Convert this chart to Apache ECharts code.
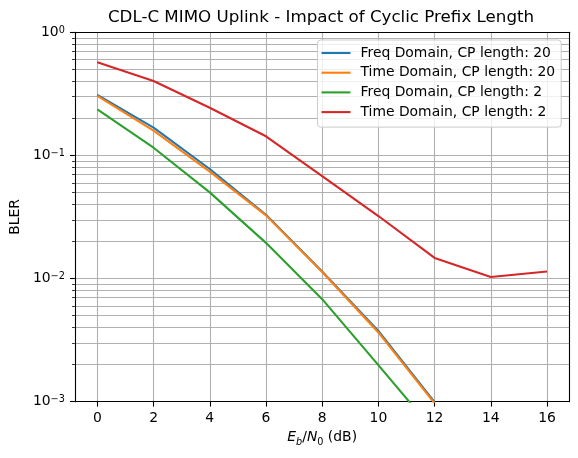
<!DOCTYPE html>
<html><head><meta charset="utf-8">
<script src="https://cdn.jsdelivr.net/npm/echarts@6/dist/echarts.min.js"></script>
<style>html,body{margin:0;padding:0;background:#fff}#c{width:578px;height:458px}</style>
</head><body><div id="c"></div>
<script>
// ---- data ----
const ebn0 = [0, 2, 4, 6, 8, 10, 12, 14, 16];
const freqCp20 = [0.310, 0.168, 0.0776, 0.0330, 0.0114, 0.00375, 0.00099, null, null];
const timeCp20 = [0.304, 0.159, 0.0738, 0.0326, 0.0113, 0.00365, 0.00097, null, null];
const freqCp2  = [0.237, 0.1155, 0.0501, 0.0195, 0.0068, 0.00198, 0.00057, null, null];
const timeCp2  = [0.570, 0.402, 0.244, 0.143, 0.068, 0.0322, 0.0147, 0.0103, 0.0114];
const seriesNames = [
  'Freq Domain, CP length: 20',
  'Time Domain, CP length: 20',
  'Freq Domain, CP length: 2',
  'Time Domain, CP length: 2'
];
const xTicks = [0, 2, 4, 6, 8, 10, 12, 14, 16];
const yMajor = [0.001, 0.01, 0.1, 1];
const yMinor = [0.002, 0.003, 0.004, 0.005, 0.006, 0.007, 0.008, 0.009,
                0.02, 0.03, 0.04, 0.05, 0.06, 0.07, 0.08, 0.09,
                0.2, 0.3, 0.4, 0.5, 0.6, 0.7, 0.8, 0.9];
const yGrid = yMinor.concat([0.01, 0.1]);

// ---- chart ----
const FONT = 'DejaVu Sans';
const colors = ['#1f77b4', '#ff7f0e', '#2ca02c', '#d62728'];
const values = [freqCp20, timeCp20, freqCp2, timeCp2];
const chart = echarts.init(document.getElementById('c'), null, {renderer: 'canvas'});

function sup(v) {
  const e = Math.round(Math.log10(v));
  return '{b|10}{s|' + (e < 0 ? '\u2212' + (-e) : String(e)) + '}';
}
const gridColor = '#b0b0b0';
const yRange = {type: 'log', logBase: 10, min: 0.001, max: 1, gridIndex: 0};

chart.setOption({
  animation: false,
  backgroundColor: '#fff',
  textStyle: {fontFamily: FONT},
  color: colors,
  title: {
    text: 'CDL-C MIMO Uplink - Impact of Cyclic Prefix Length',
    left: 316, top: 4, textAlign: 'center',
    textStyle: {fontFamily: FONT, fontSize: 16.7, fontWeight: 'normal', color: '#000'}
  },
  legend: {
    data: seriesNames,
    orient: 'vertical',
    left: 317.5, top: 40,
    padding: [6, 6, 8, 4],
    itemWidth: 29, itemHeight: 14, itemGap: 5.7,
    icon: 'path://M0,0H29V2.1H0Z',
    backgroundColor: 'rgba(255,255,255,0.8)',
    borderColor: '#cccccc', borderWidth: 1, borderRadius: 3,
    textStyle: {fontFamily: FONT, fontSize: 13.9, color: '#000', lineHeight: 14, padding: [0, 0, 0, 5]}
  },
  grid: {left: 73, right: 8.5, top: 32.3, bottom: 56.3, containLabel: false},
  xAxis: [{
    type: 'value', min: -0.8, max: 16.8, position: 'bottom',
    axisLine: {show: true, onZero: false, lineStyle: {color: '#000', width: 1.1}},
    axisTick: {show: true, customValues: xTicks, length: 4.9, lineStyle: {color: '#000', width: 1.1}},
    axisLabel: {customValues: xTicks, margin: 10, fontFamily: FONT, fontSize: 13.9, color: '#000'},
    splitLine: {show: true, lineStyle: {color: gridColor, width: 1.1}},
    name: '{i|E}{sb|b}{n|/}{i|N}{s0|0}{n| (dB)}',
    nameLocation: 'middle', nameGap: 28,
    nameTextStyle: {
      color: '#000',
      rich: {
        i: {fontFamily: FONT, fontSize: 13.9, fontStyle: 'italic', color: '#000', lineHeight: 16, verticalAlign: 'top'},
        n: {fontFamily: FONT, fontSize: 13.9, color: '#000', lineHeight: 16, verticalAlign: 'top'},
        sb: {fontFamily: FONT, fontSize: 9.7, fontStyle: 'italic', color: '#000', lineHeight: 24},
        s0: {fontFamily: FONT, fontSize: 9.7, color: '#000', lineHeight: 24}
      }
    }
  }, {
    type: 'value', min: -0.8, max: 16.8, position: 'top',
    axisLine: {show: true, onZero: false, lineStyle: {color: '#000', width: 1.1}},
    axisTick: {show: false}, axisLabel: {show: false}, splitLine: {show: false}
  }],
  yAxis: [Object.assign({}, yRange, {
    position: 'left',
    axisLine: {show: true, onZero: false, lineStyle: {color: '#000', width: 1.1}},
    axisTick: {show: true, customValues: yMajor, length: 4.9, lineStyle: {color: '#000', width: 1.1}},
    axisLabel: {
      customValues: yMajor, margin: 10, formatter: sup,
      rich: {
        b: {fontFamily: FONT, fontSize: 13.9, color: '#000', lineHeight: 14, verticalAlign: 'bottom'},
        s: {fontFamily: FONT, fontSize: 9.7, color: '#000', lineHeight: 10, verticalAlign: 'top', padding: [0, 0, 5, 0]}
      }
    },
    splitLine: {show: false}, minorTick: {show: false},
    name: 'BLER', nameLocation: 'middle', nameGap: 46, nameRotate: 90,
    nameTextStyle: {fontFamily: FONT, fontSize: 13.9, color: '#000'}
  }), Object.assign({}, yRange, {
    position: 'left',
    axisLine: {show: false, onZero: false},
    axisTick: {show: true, customValues: yMinor, length: 2.8, lineStyle: {color: '#000', width: 0.8}},
    axisLabel: {show: false}, splitLine: {show: false}
  }), Object.assign({}, yRange, {
    position: 'left',
    axisLine: {show: false, onZero: false},
    axisTick: {show: false, customValues: yGrid},
    axisLabel: {show: false},
    splitLine: {show: true, lineStyle: {color: gridColor, width: 1.1}}
  }), Object.assign({}, yRange, {
    position: 'right',
    axisLine: {show: true, onZero: false, lineStyle: {color: '#000', width: 1.1}},
    axisTick: {show: false}, axisLabel: {show: false}, splitLine: {show: false}
  })],
  series: values.map((vals, k) => ({
    name: seriesNames[k],
    type: 'line',
    xAxisIndex: 0, yAxisIndex: 0,
    symbol: 'none',
    clip: true,
    connectNulls: false,
    lineStyle: {width: 2.1, color: colors[k]},
    itemStyle: {color: colors[k]},
    data: ebn0.map((x, i) => [x, vals[i]]).filter(p => p[1] !== null)
  }))
});
</script></body></html>
